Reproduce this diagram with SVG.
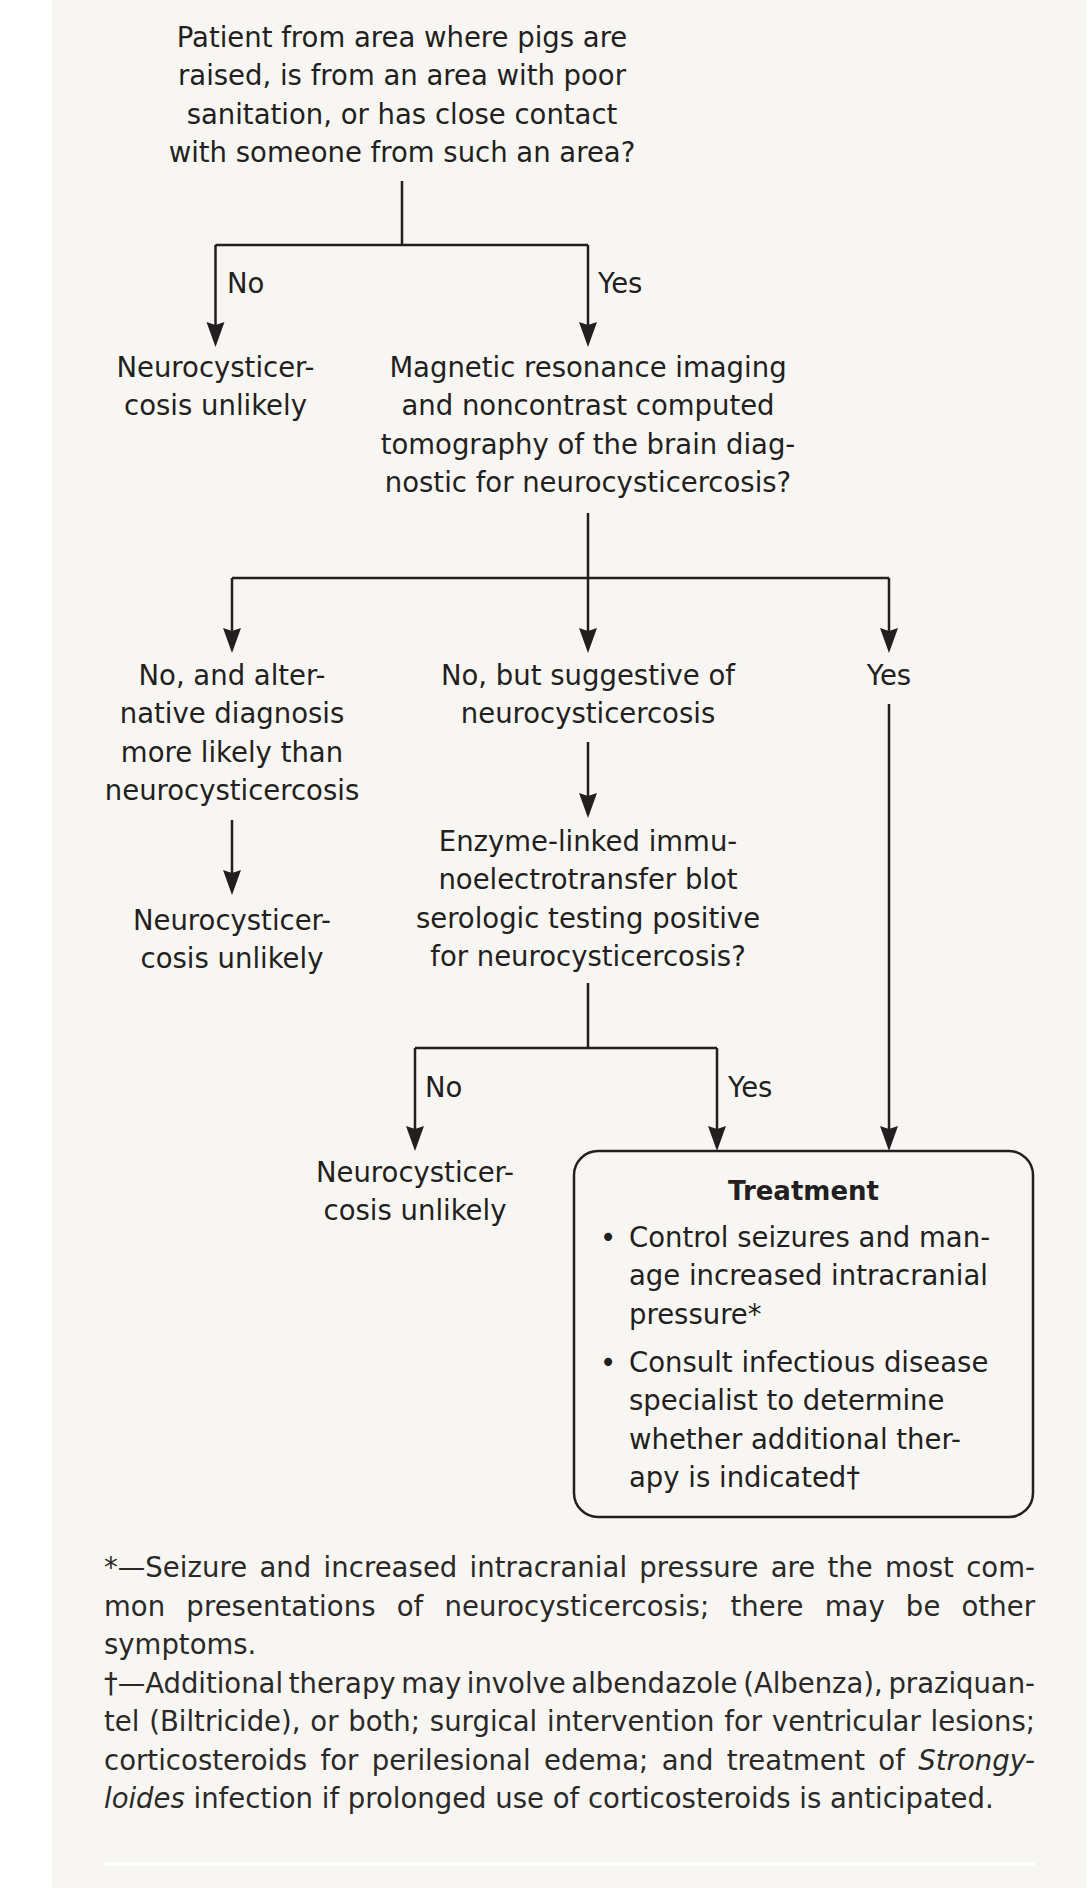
<svg xmlns="http://www.w3.org/2000/svg" width="1088" height="1888" viewBox="0 0 1088 1888">
  <style>
    .t { font-family: "DejaVu Sans", "Liberation Sans", sans-serif; font-size: 27.5px; fill: #231f20; }
    .c { text-anchor: middle; }
    .b { font-weight: bold; font-size: 26px; }
    .fn { fill: #2b2928; }
    .ln { stroke: #231f20; stroke-width: 2.5; fill: none; }
    .ar { marker-end: url(#ah); }
  </style>
  <defs>
    <marker id="ah" markerUnits="userSpaceOnUse" markerWidth="26" markerHeight="20" refX="20" refY="10" orient="auto" viewBox="0 0 26 20">
      <path d="M0,1 L25,10 L0,19 L3,10 Z" fill="#231f20"/>
    </marker>
  </defs>

  <rect x="0" y="0" width="1088" height="1888" fill="#ffffff"/>
  <rect x="52" y="0" width="1034" height="1888" fill="#f7f6f2"/>

  <g id="connectors">
    <path class="ln" d="M402,181 V245 M215.5,245 H588"/>
    <path class="ln ar" d="M215.5,245 V342"/>
    <path class="ln ar" d="M588,245 V342"/>
    <path class="ln" d="M588,513 V578 M232,578 H889"/>
    <path class="ln ar" d="M232,578 V648"/>
    <path class="ln ar" d="M588,578 V648"/>
    <path class="ln ar" d="M889,578 V648"/>
    <path class="ln ar" d="M232,820 V890"/>
    <path class="ln ar" d="M588,742 V813"/>
    <path class="ln" d="M588,983 V1048 M415,1048 H717"/>
    <path class="ln ar" d="M415,1048 V1146"/>
    <path class="ln ar" d="M717,1048 V1146"/>
    <path class="ln ar" d="M889,704 V1146"/>
    <text class="t" x="227" y="293">No</text>
    <text class="t" x="598" y="293">Yes</text>
    <text class="t" x="425" y="1097">No</text>
    <text class="t" x="728" y="1097">Yes</text>
  </g>

  <g id="n-start">
    <text class="t c" x="402" y="47">Patient from area where pigs are</text>
    <text class="t c" x="402" y="85.3">raised, is from an area with poor</text>
    <text class="t c" x="402" y="123.6">sanitation, or has close contact</text>
    <text class="t c" x="402" y="162">with someone from such an area?</text>
  </g>

  <g id="n-unlikely1">
    <text class="t c" x="215.5" y="377">Neurocysticer-</text>
    <text class="t c" x="215.5" y="415.3">cosis unlikely</text>
  </g>

  <g id="n-mri">
    <text class="t c" x="588" y="377">Magnetic resonance imaging</text>
    <text class="t c" x="588" y="415.3">and noncontrast computed</text>
    <text class="t c" x="588" y="453.6">tomography of the brain diag-</text>
    <text class="t c" x="588" y="492">nostic for neurocysticercosis?</text>
  </g>

  <g id="n-alt">
    <text class="t c" x="232" y="685">No, and alter-</text>
    <text class="t c" x="232" y="723.4">native diagnosis</text>
    <text class="t c" x="232" y="761.8">more likely than</text>
    <text class="t c" x="232" y="800.2">neurocysticercosis</text>
  </g>

  <g id="n-suggestive">
    <text class="t c" x="588" y="685">No, but suggestive of</text>
    <text class="t c" x="588" y="723.4">neurocysticercosis</text>
  </g>

  <g id="n-yes">
    <text class="t c" x="889" y="685">Yes</text>
  </g>

  <g id="n-unlikely2">
    <text class="t c" x="232" y="930">Neurocysticer-</text>
    <text class="t c" x="232" y="968.4">cosis unlikely</text>
  </g>

  <g id="n-eitb">
    <text class="t c" x="588" y="851">Enzyme-linked immu-</text>
    <text class="t c" x="588" y="889.4">noelectrotransfer blot</text>
    <text class="t c" x="588" y="927.8">serologic testing positive</text>
    <text class="t c" x="588" y="966.2">for neurocysticercosis?</text>
  </g>

  <g id="n-unlikely3">
    <text class="t c" x="415" y="1182">Neurocysticer-</text>
    <text class="t c" x="415" y="1220.4">cosis unlikely</text>
  </g>

  <g id="n-treatment">
    <rect x="574" y="1151" width="459" height="366" rx="24" ry="24" fill="none" stroke="#231f20" stroke-width="2.5"/>
    <text class="t c b" x="803.5" y="1200">Treatment</text>
    <text class="t c" x="608" y="1247">•</text>
    <text class="t" x="629" y="1247">Control seizures and man-</text>
    <text class="t" x="629" y="1285.3">age increased intracranial</text>
    <text class="t" x="629" y="1323.6">pressure*</text>
    <text class="t c" x="608" y="1372">•</text>
    <text class="t" x="629" y="1372">Consult infectious disease</text>
    <text class="t" x="629" y="1410.3">specialist to determine</text>
    <text class="t" x="629" y="1448.6">whether additional ther-</text>
    <text class="t" x="629" y="1487">apy is indicated†</text>
  </g>

  <g id="footnotes">
    <text class="t fn" x="104" y="1577" word-spacing="3.4" textLength="931" lengthAdjust="spacing">*—Seizure and increased intracranial pressure are the most com-</text>
    <text class="t fn" x="104" y="1615.5" word-spacing="12.3" textLength="931" lengthAdjust="spacing">mon presentations of neurocysticercosis; there may be other</text>
    <text class="t fn" x="104" y="1654">symptoms.</text>
    <text class="t fn" x="104" y="1692.5" word-spacing="-3" textLength="931" lengthAdjust="spacing">†—Additional therapy may involve albendazole (Albenza), praziquan-</text>
    <text class="t fn" x="104" y="1731" word-spacing="1" textLength="931" lengthAdjust="spacing">tel (Biltricide), or both; surgical intervention for ventricular lesions;</text>
    <text class="t fn" x="104" y="1769.5" word-spacing="4.5" textLength="931" lengthAdjust="spacing">corticosteroids for perilesional edema; and treatment of <tspan font-style="italic">Strongy-</tspan></text>
    <text class="t fn" x="104" y="1808"><tspan font-style="italic">loides</tspan> infection if prolonged use of corticosteroids is anticipated.</text>
    <line x1="104" y1="1864" x2="1035" y2="1864" stroke="#ffffff" stroke-width="4"/>
  </g>
</svg>
